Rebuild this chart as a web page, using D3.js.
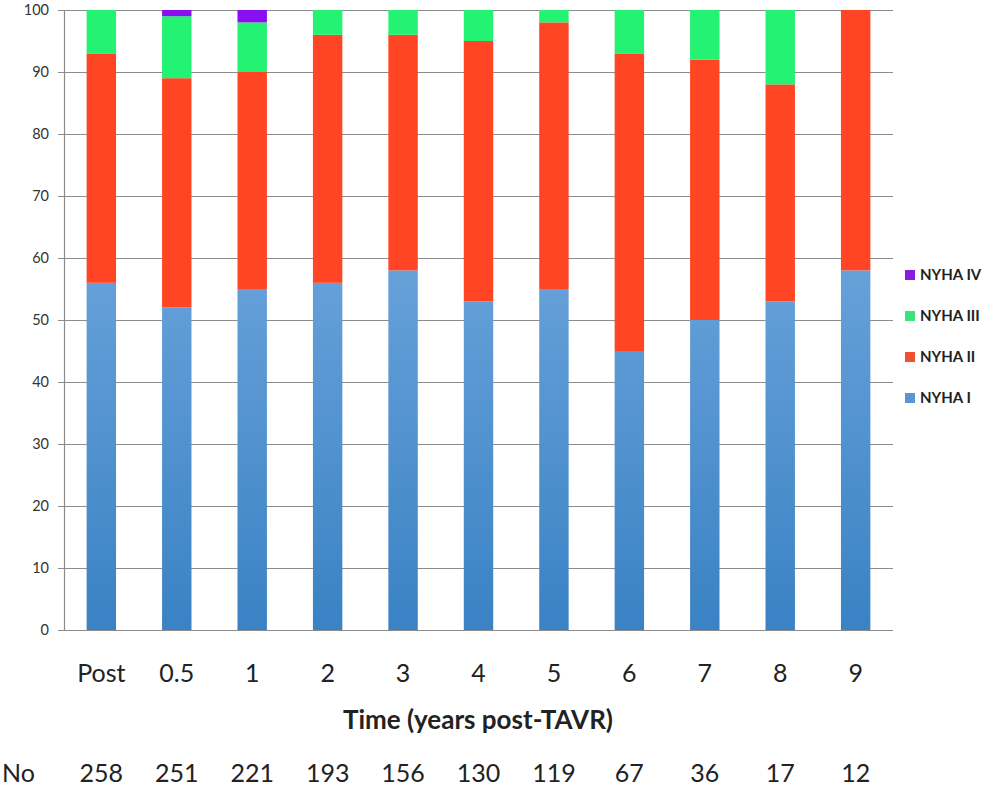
<!DOCTYPE html>
<html>
<head>
<meta charset="utf-8">
<script src="https://cdn.jsdelivr.net/npm/d3@7"></script>
<style>
body { margin: 0; background: #fff; }
svg text { font-family: Lato, "Open Sans", sans-serif; fill: #222; }
</style>
</head>
<body>
<svg width="985" height="788"></svg>
<script>
var categories = ["Post", "0.5", "1", "2", "3", "4", "5", "6", "7", "8", "9"];
var counts = [258, 251, 221, 193, 156, 130, 119, 67, 36, 17, 12];
var nyha1 = [56, 52, 55, 56, 58, 53, 55, 45, 50, 53, 58];
var nyha2 = [37, 37, 35, 40, 38, 42, 43, 48, 42, 35, 42];
var nyha3 = [7, 10, 8, 4, 4, 5, 2, 7, 8, 12, 0];
var nyha4 = [0, 1, 2, 0, 0, 0, 0, 0, 0, 0, 0];
var seriesNames = ["NYHA I", "NYHA II", "NYHA III", "NYHA IV"];
var yTicks = [0, 10, 20, 30, 40, 50, 60, 70, 80, 90, 100];

var svg = d3.select("svg");
var margin = {top: 10, left: 64, right: 92, bottom: 158};
var width = 985 - margin.left - margin.right,
    height = 788 - margin.top - margin.bottom;

var color = {"NYHA I": "url(#blueGrad)", "NYHA II": "#ff4524", "NYHA III": "#24f272", "NYHA IV": "#8a0ff0"};
var legendColor = {"NYHA I": "#5a96d2", "NYHA II": "#f0502e", "NYHA III": "#3ae37e", "NYHA IV": "#8a1ae0"};

var defs = svg.append("defs");
var grad = defs.append("linearGradient")
    .attr("id", "blueGrad")
    .attr("gradientUnits", "userSpaceOnUse")
    .attr("x1", 0).attr("y1", 0).attr("x2", 0).attr("y2", height);
grad.append("stop").attr("offset", "0%").attr("stop-color", "#7fb2e2");
grad.append("stop").attr("offset", "45%").attr("stop-color", "#649fd8");
grad.append("stop").attr("offset", "100%").attr("stop-color", "#3a82c4");

var g = svg.append("g").attr("transform", "translate(" + margin.left + "," + margin.top + ")");

var x = d3.scaleBand().domain(categories).range([0, width]).paddingInner(0.61).paddingOuter(0.3);
var y = d3.scaleLinear().domain([0, 100]).range([height, 0]);

var rows = categories.map(function(c, i) {
    return {cat: c, "NYHA I": nyha1[i], "NYHA II": nyha2[i], "NYHA III": nyha3[i], "NYHA IV": nyha4[i]};
});
var stacked = d3.stack().keys(seriesNames)(rows);

// grid lines
g.append("g").selectAll("line")
    .data(yTicks)
    .enter().append("line")
    .attr("x1", -6).attr("x2", width)
    .attr("y1", function(d) { return y(d) + 0.5; })
    .attr("y2", function(d) { return y(d) + 0.5; })
    .attr("stroke", "#8c8c8c")
    .attr("stroke-width", 1.2);

g.append("line")
    .attr("x1", 0.5).attr("x2", 0.5)
    .attr("y1", 0).attr("y2", height)
    .attr("stroke", "#8c8c8c")
    .attr("stroke-width", 1.2);

g.append("g").selectAll("text")
    .data(yTicks)
    .enter().append("text")
    .attr("x", -15)
    .attr("y", function(d) { return y(d); })
    .attr("dy", "0.35em")
    .attr("text-anchor", "end")
    .attr("font-size", "14.5px")
    .style("fill", "#333")
    .text(function(d) { return d; });

// bars
g.selectAll(".layer")
    .data(stacked)
    .enter().append("g")
    .attr("class", "layer")
    .attr("fill", function(d) { return color[d.key]; })
    .selectAll("rect")
    .data(function(d) { return d; })
    .enter().append("rect")
    .attr("x", function(d) { return x(d.data.cat); })
    .attr("width", x.bandwidth())
    .attr("y", function(d) { return y(d[1]); })
    .attr("height", function(d) { return y(d[0]) - y(d[1]); });

// x labels
g.append("g").selectAll("text")
    .data(categories)
    .enter().append("text")
    .attr("x", function(d) { return x(d) + x.bandwidth() / 2; })
    .attr("y", height + 52)
    .attr("text-anchor", "middle")
    .attr("font-size", "25px")
    .text(function(d) { return d; });

svg.append("text")
    .attr("x", 478)
    .attr("y", 729)
    .attr("text-anchor", "middle")
    .attr("font-size", "26px")
    .attr("font-weight", "bold")
    .text("Time (years post-TAVR)");

svg.append("text")
    .attr("x", 2)
    .attr("y", 782)
    .attr("font-size", "25px")
    .text("No");

g.append("g").selectAll("text")
    .data(counts)
    .enter().append("text")
    .attr("x", function(d, i) { return x(categories[i]) + x.bandwidth() / 2; })
    .attr("y", 782 - margin.top)
    .attr("text-anchor", "middle")
    .attr("font-size", "25px")
    .text(function(d) { return d; });

// legend
var legend = svg.append("g").selectAll("g")
    .data(seriesNames.slice().reverse())
    .enter().append("g")
    .attr("transform", function(d, i) { return "translate(905," + (270 + i * 41) + ")"; });

legend.append("rect")
    .attr("width", 10).attr("height", 10)
    .attr("fill", function(d) { return legendColor[d]; });

legend.append("text")
    .attr("x", 15)
    .attr("y", 5)
    .attr("dy", "0.35em")
    .attr("font-size", "15px")
    .attr("font-weight", "bold")
    .text(function(d) { return d; });
</script>
</body>
</html>
